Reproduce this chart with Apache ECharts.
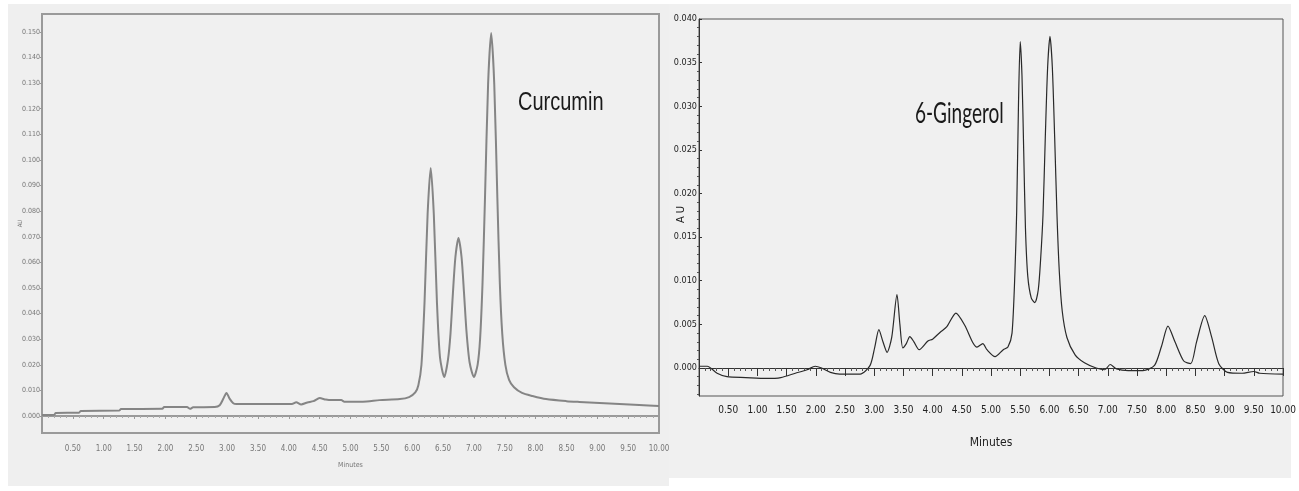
<!DOCTYPE html>
<html>
<head>
<meta charset="UTF-8">
<title>Curcumin / 6-Gingerol HPLC</title>
<script src="https://cdn.jsdelivr.net/npm/echarts@6/dist/echarts.min.js"></script>
<style>
  html, body { margin: 0; padding: 0; background: #ffffff; }
  #chart { width: 1299px; height: 491px; }
</style>
</head>
<body>
<div id="chart"></div>
<script>
// curcumin chromatogram (minutes, AU)
var curcuminTime = [0, 0.20, 0.22, 0.60, 0.63, 1.25, 1.28, 1.95, 1.98, 2.35, 2.40, 2.45, 2.80, 2.88, 2.94, 2.99, 3.04, 3.10, 3.15,
  4.05, 4.12, 4.20, 4.30, 4.40, 4.50, 4.60, 4.70, 4.85, 4.90, 5.20, 5.47, 5.80, 5.95, 6.05, 6.10, 6.15, 6.20, 6.25, 6.30,
  6.35, 6.40, 6.45, 6.52, 6.58, 6.62, 6.66, 6.70, 6.75, 6.80, 6.84, 6.88, 6.93, 7.00, 7.06, 7.10, 7.14, 7.18, 7.23, 7.28,
  7.33, 7.38, 7.42, 7.46, 7.51, 7.57, 7.65, 7.78, 7.95, 8.17, 8.50, 8.71, 9.20, 9.68, 10.0];
var curcuminAU = [0.0004, 0.0005, 0.0012, 0.0013, 0.0020, 0.0021, 0.0027, 0.0028, 0.0035, 0.0035, 0.0028, 0.0034, 0.0035, 0.0042, 0.0068, 0.0090, 0.0068, 0.0050, 0.0047,
  0.0047, 0.0054, 0.0045, 0.0053, 0.0058, 0.0070, 0.0064, 0.0062, 0.0062, 0.0056, 0.0056, 0.0062, 0.0066, 0.0074, 0.0092, 0.0120, 0.0200, 0.0445, 0.0790, 0.0969,
  0.0790, 0.0450, 0.0230, 0.0152, 0.0220, 0.0320, 0.0480, 0.0620, 0.0695, 0.0620, 0.0480, 0.0330, 0.0210, 0.0152, 0.0200, 0.0300, 0.0520, 0.0853, 0.1296, 0.1496,
  0.1296, 0.0853, 0.0520, 0.0320, 0.0200, 0.0141, 0.0112, 0.0090, 0.0078, 0.0066, 0.0058, 0.0055, 0.0049, 0.0043, 0.0039];

// 6-gingerol chromatogram (minutes, AU)
var gingerolTime = [0, 0.14, 0.31, 0.48, 0.80, 1.16, 1.40, 1.65, 1.85, 1.99, 2.10, 2.25, 2.41, 2.76, 2.93, 3.01, 3.08, 3.15, 3.22,
  3.30, 3.39, 3.44, 3.49, 3.55, 3.61, 3.68, 3.77, 3.92, 4.00, 4.13, 4.24, 4.40, 4.55, 4.69, 4.76, 4.86, 4.93, 5.07, 5.21, 5.29,
  5.36, 5.41, 5.44, 5.47, 5.50, 5.53, 5.56, 5.59, 5.63, 5.69, 5.75, 5.81, 5.85, 5.89, 5.93, 5.97, 6.01, 6.05, 6.09, 6.13, 6.17,
  6.22, 6.30, 6.44, 6.60, 6.80, 6.95, 7.04, 7.15, 7.35, 7.60, 7.80, 7.92, 8.03, 8.15, 8.30, 8.42, 8.52, 8.66, 8.78, 8.90, 9.05,
  9.30, 9.50, 9.60, 10.0];
var gingerolAU = [0.0002, 0.0002, -0.0006, -0.0010, -0.0011, -0.0012, -0.0011, -0.0006, -0.0002, 0.0002, 0.0000, -0.0005, -0.0007, -0.0007, 0.0003, 0.0024, 0.0044, 0.0030, 0.0018,
  0.0035, 0.0084, 0.0050, 0.0023, 0.0028, 0.0036, 0.0030, 0.0021, 0.0031, 0.0033, 0.0041, 0.0047, 0.0063, 0.0049, 0.0029, 0.0024, 0.0028, 0.0021, 0.0013, 0.0021, 0.0024,
  0.0040, 0.0110, 0.0180, 0.0300, 0.0374, 0.0336, 0.0249, 0.0160, 0.0105, 0.0080, 0.0075, 0.0090, 0.0125, 0.0175, 0.0265, 0.0345, 0.0380, 0.0345, 0.0265, 0.0175, 0.0110,
  0.0065, 0.0035, 0.0015, 0.0006, 0.0000, -0.0002, 0.0004, -0.0001, -0.0003, -0.0003, 0.0003, 0.0025, 0.0048, 0.0030, 0.0008, 0.0005, 0.0030, 0.0060, 0.0035, 0.0005, -0.0005,
  -0.0006, -0.0004, -0.0006, -0.0007];

// tick labels
var curcuminYTicks = [0, 0.01, 0.02, 0.03, 0.04, 0.05, 0.06, 0.07, 0.08, 0.09, 0.10, 0.11, 0.12, 0.13, 0.14, 0.15];
var gingerolYTicks = [0, 0.005, 0.010, 0.015, 0.020, 0.025, 0.030, 0.035, 0.040];
var gingerolYMinor = [];
for (var i = -3; i <= 40; i++) { if (i % 5 !== 0) gingerolYMinor.push(i / 1000); }

function pairs(xs, ys) {
  var out = [];
  for (var i = 0; i < xs.length; i++) out.push([xs[i], ys[i]]);
  return out;
}
function minLabel(v) { return v === 0 ? '' : v.toFixed(2); }

var narrow = '"DejaVu Sans Condensed", "Liberation Sans Narrow", "Liberation Sans", sans-serif';

var chart = echarts.init(document.getElementById('chart'));
chart.setOption({
  animation: false,
  backgroundColor: '#ffffff',
  graphic: [
    { type: 'rect', z: -10, shape: { x: 8, y: 4, width: 661, height: 482 }, style: { fill: '#efefef' } },
    { type: 'rect', z: -10, shape: { x: 669, y: 4, width: 622, height: 474 }, style: { fill: '#f0f0f0' } },
    { type: 'text', x: 518, y: 91, scaleX: 0.8, style: { text: 'Curcumin', font: '25px "Liberation Sans", Arial, sans-serif', fill: '#1a1a1a' } },
    { type: 'text', x: 915, y: 100, scaleX: 0.68, style: { text: '6-Gingerol', font: '28px Lato, "Open Sans", sans-serif', fill: '#1a1a1a' } }
  ],
  grid: [
    { left: 42, top: 14, width: 617, height: 419, show: true, backgroundColor: '#f0f0f0', borderColor: '#9a9a9a', borderWidth: 2 },
    { left: 699, top: 19, width: 584, height: 377, show: true, backgroundColor: '#f0f0f0', borderColor: '#555', borderWidth: 1 }
  ],
  xAxis: [
    {
      gridIndex: 0, type: 'value', min: 0, max: 10, interval: 0.5,
      name: 'Minutes', nameLocation: 'middle', nameGap: 29,
      nameTextStyle: { fontSize: 7, color: '#777', fontFamily: narrow },
      axisLine: { lineStyle: { color: '#9a9a9a', width: 2 } },
      axisTick: { length: 3, lineStyle: { color: '#999' } },
      minorTick: { show: true, splitNumber: 5, length: 2, lineStyle: { color: '#aaa' } },
      splitLine: { show: false },
      axisLabel: { formatter: minLabel, fontSize: 8, color: '#777', margin: 12, fontFamily: narrow, showMaxLabel: true }
    },
    {
      gridIndex: 1, type: 'value', min: 0, max: 10, interval: 0.5,
      name: 'Minutes', nameLocation: 'middle', nameGap: 41,
      nameTextStyle: { fontSize: 12, color: '#222', fontFamily: narrow },
      axisLine: { lineStyle: { color: '#333', width: 1 } },
      axisTick: { length: 8, lineStyle: { color: '#333' } },
      minorTick: { show: true, splitNumber: 5, length: 3, lineStyle: { color: '#555' } },
      splitLine: { show: false },
      axisLabel: { formatter: minLabel, fontSize: 10, color: '#222', margin: 9, fontFamily: narrow, showMaxLabel: true }
    }
  ],
  yAxis: [
    {
      gridIndex: 0, type: 'value', min: -0.00664, max: 0.157,
      name: 'AU', nameLocation: 'middle', nameGap: 19, nameMoveOverlap: false,
      nameTextStyle: { fontSize: 6, color: '#777', fontFamily: narrow },
      axisLine: { lineStyle: { color: '#9a9a9a', width: 2 } },
      axisTick: { show: true, length: 2, customValues: curcuminYTicks, lineStyle: { color: '#999' } },
      splitLine: { show: false },
      axisLabel: { customValues: curcuminYTicks, formatter: function (v) { return v.toFixed(3); }, fontSize: 7, color: '#777', margin: 2, fontFamily: narrow }
    },
    {
      gridIndex: 1, type: 'value', min: -0.00321, max: 0.040,
      name: 'A U', nameLocation: 'middle', nameGap: 12, nameMoveOverlap: false,
      nameTextStyle: { fontSize: 11, color: '#222', fontFamily: narrow, padding: [0, 0, 0, -14] },
      axisLine: { lineStyle: { color: '#333', width: 1 } },
      axisTick: { show: true, inside: true, length: 3, customValues: gingerolYTicks, lineStyle: { color: '#333' } },
      splitLine: { show: false },
      axisLabel: { customValues: gingerolYTicks, formatter: function (v) { return v.toFixed(3); }, fontSize: 9, color: '#222', margin: 2, fontFamily: narrow }
    },
    {
      gridIndex: 1, type: 'value', position: 'left', min: -0.00321, max: 0.040,
      axisLine: { show: false },
      axisTick: { show: true, length: 2, customValues: gingerolYMinor, lineStyle: { color: '#555' } },
      axisLabel: { show: false, customValues: gingerolYMinor },
      splitLine: { show: false }
    }
  ],
  series: [
    {
      type: 'line', xAxisIndex: 0, yAxisIndex: 0, data: pairs(curcuminTime, curcuminAU),
      smooth: 0.25, showSymbol: false, lineStyle: { color: '#858585', width: 2 }
    },
    {
      type: 'line', xAxisIndex: 1, yAxisIndex: 1, data: pairs(gingerolTime, gingerolAU),
      smooth: 0.25, showSymbol: false, lineStyle: { color: '#2a2a2a', width: 1.2 }
    }
  ]
});
</script>
</body>
</html>
